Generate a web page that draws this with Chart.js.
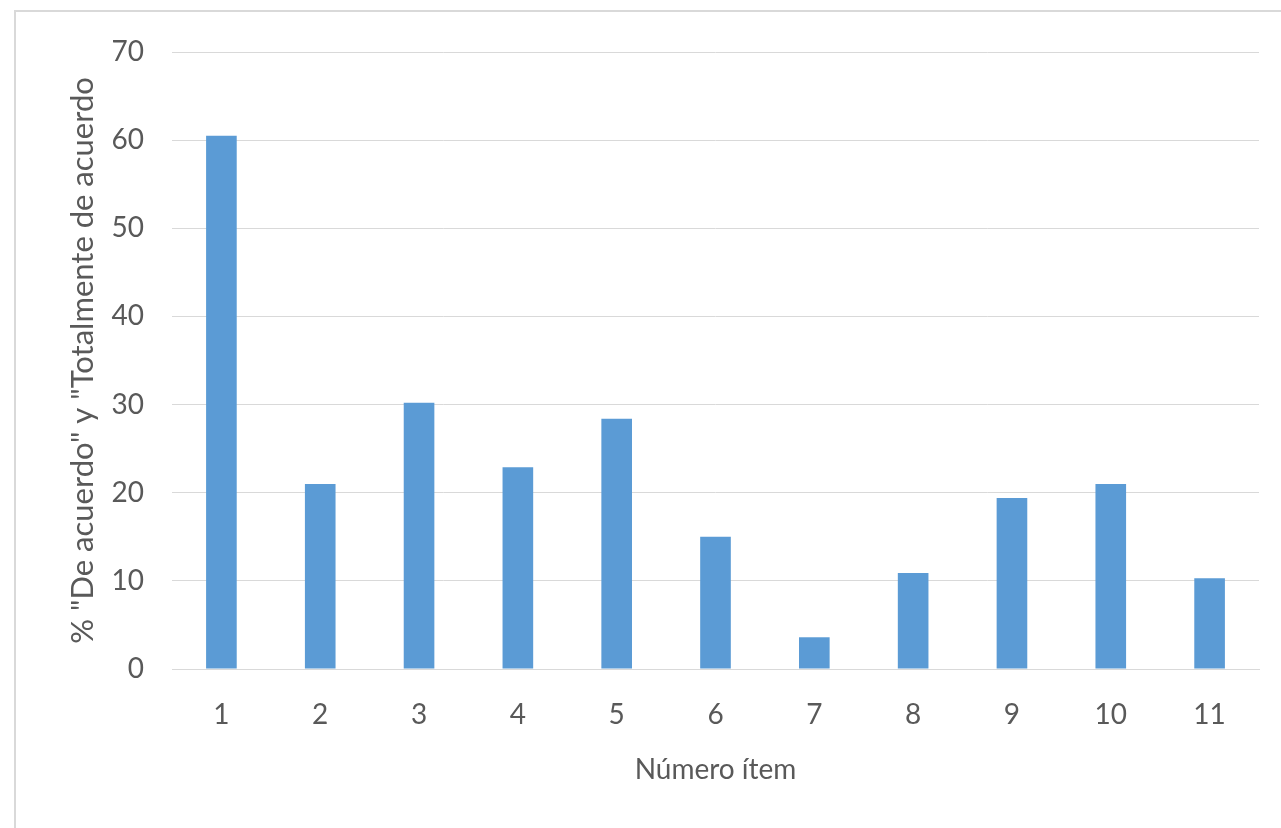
<!DOCTYPE html>
<html>
<head>
<meta charset="utf-8">
<script src="https://cdn.jsdelivr.net/npm/chart.js@4.4.1/dist/chart.umd.min.js"></script>
<style>
  html, body { margin: 0; padding: 0; background: #fff; overflow: hidden; }
  #frame {
    position: absolute; left: 14px; top: 10px; width: 1400px; height: 900px;
    border-top: 2px solid #d9d9d9; border-left: 2px solid #d9d9d9;
  }
  #wrap { position: absolute; left: 0; top: 0; width: 1281px; height: 828px; }
</style>
</head>
<body>
<div id="frame"></div>
<div id="wrap"><canvas id="barras"></canvas></div>
<script>
const itemLabels = ["1", "2", "3", "4", "5", "6", "7", "8", "9", "10", "11"];
const agreePercent = [60.5, 21.0, 30.2, 22.9, 28.4, 15.0, 3.6, 10.9, 19.4, 21.0, 10.3];
const yTicks = [0, 10, 20, 30, 40, 50, 60, 70];
const yTitle = '% "De acuerdo" y "Totalmente de acuerdo';
const xTitle = "Número ítem";

const textColor = "#595959";
const gridColor = "#d9d9d9";
const fontFamily = "Lato, 'Open Sans', sans-serif";

const barChart = document.getElementById("barras");

new Chart(barChart, {
  type: "bar",
  data: {
    labels: itemLabels,
    datasets: [
      {
        label: yTitle,
        data: agreePercent,
        backgroundColor: "#5b9bd5",
        borderWidth: 0,
        categoryPercentage: 0.31,
        barPercentage: 1,
      },
    ],
  },
  options: {
    responsive: true,
    maintainAspectRatio: false,
    animation: false,
    devicePixelRatio: 1,
    layout: { padding: { left: 0, top: 52, right: 22, bottom: 0 } },
    plugins: {
      legend: { display: false },
      tooltip: { enabled: false },
    },
    scales: {
      x: {
        grid: { display: false, drawTicks: false },
        border: { display: true, color: gridColor, width: 1 },
        ticks: {
          color: textColor,
          padding: 29,
          font: { family: fontFamily, size: 28 },
        },
        title: {
          display: true,
          text: xTitle,
          color: textColor,
          padding: { top: 0, bottom: 41 },
          font: { family: fontFamily, size: 28 },
        },
        afterFit: (scale) => {
          scale.height = 159;
        },
      },
      y: {
        min: 0,
        max: 70,
        afterBuildTicks: (scale) => {
          scale.ticks = yTicks.map((v) => ({ value: v }));
        },
        grid: { color: gridColor, lineWidth: 1, drawTicks: false },
        border: { display: false },
        ticks: {
          color: textColor,
          padding: 28,
          font: { family: fontFamily, size: 28 },
        },
        title: {
          display: true,
          text: yTitle,
          color: textColor,
          padding: { top: 64, bottom: 0 },
          font: { family: fontFamily, size: 31 },
        },
        afterFit: (scale) => {
          scale.width = 172;
        },
      },
    },
  },
});
</script>
</body>
</html>
